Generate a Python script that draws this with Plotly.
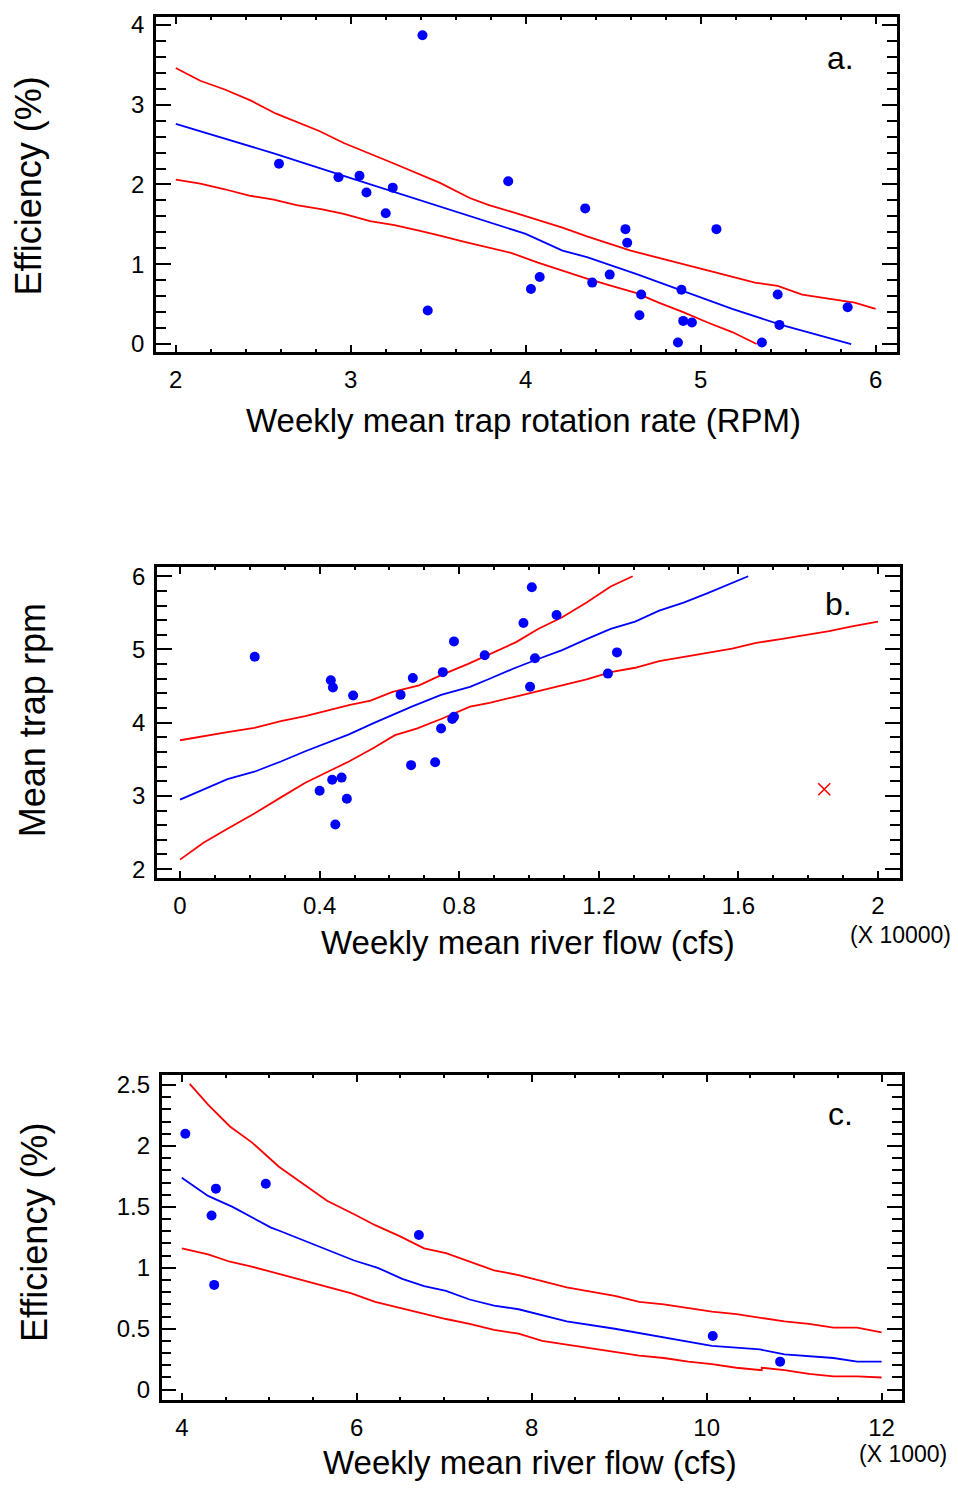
import plotly.graph_objects as go

FONT = "Liberation Sans, Arial, sans-serif"
BLUE = "#0000ff"
RED = "#ff0000"

# ---------------- Panel a: efficiency vs trap rotation rate ----------------
a_pts_x = [2.59, 2.93, 3.05, 3.09, 3.24, 3.20, 3.41, 3.44, 3.90, 4.03, 4.08, 4.34, 4.38, 4.48,
           4.57, 4.58, 4.66, 4.65, 4.89, 4.90, 4.95, 4.87, 5.09, 5.35, 5.44, 5.45, 5.84]
a_pts_y = [2.26, 2.09, 2.11, 1.90, 1.96, 1.64, 3.87, 0.42, 2.04, 0.69, 0.84, 1.70, 0.77, 0.87,
           1.44, 1.27, 0.62, 0.36, 0.68, 0.29, 0.27, 0.02, 1.44, 0.02, 0.62, 0.24, 0.46]
a_fit_x = [2.00, 2.56, 3.00, 3.51, 4.00, 4.21, 4.35, 4.63, 4.90, 5.18, 5.46, 5.86]
a_fit_y = [2.76, 2.39, 2.08, 1.72, 1.38, 1.17, 1.09, 0.88, 0.66, 0.44, 0.24, 0.00]
a_up_x = [2.00, 2.14, 2.28, 2.43, 2.57, 2.82, 2.96, 3.13, 3.26, 3.51, 3.68, 3.79, 3.93, 4.21,
          4.35, 4.60, 4.71, 4.90, 5.10, 5.31, 5.44, 5.58, 5.74, 5.88, 6.00]
a_up_y = [3.46, 3.30, 3.19, 3.05, 2.89, 2.67, 2.52, 2.37, 2.25, 2.02, 1.83, 1.74, 1.65, 1.46,
          1.35, 1.17, 1.11, 1.00, 0.89, 0.77, 0.73, 0.62, 0.57, 0.52, 0.44]
a_lo_x = [2.00, 2.14, 2.28, 2.42, 2.56, 2.69, 2.83, 2.96, 3.11, 3.25, 3.39, 3.51, 3.65, 3.79,
          3.92, 4.07, 4.21, 4.35, 4.49, 4.63, 4.76, 4.90, 5.04, 5.18, 5.32]
a_lo_y = [2.06, 2.01, 1.94, 1.86, 1.81, 1.74, 1.69, 1.63, 1.54, 1.49, 1.42, 1.36, 1.28, 1.21,
          1.14, 1.02, 0.92, 0.82, 0.73, 0.64, 0.52, 0.40, 0.27, 0.15, 0.00]

# ---------------- Panel b: mean trap rpm vs river flow (x 10000 cfs) ----------------
b_pts_x = [0.214, 0.432, 0.438, 0.496, 0.632, 0.667, 0.753, 0.785, 0.873, 0.984, 1.008, 1.079,
           1.017, 1.003, 1.226, 1.252, 0.785, 0.780, 0.748, 0.662, 0.731, 0.436, 0.463, 0.400,
           0.478, 0.445]
b_pts_y = [4.90, 4.58, 4.48, 4.37, 4.38, 4.61, 4.69, 5.11, 4.92, 5.36, 5.85, 5.47,
           4.88, 4.49, 4.67, 4.96, 4.08, 4.05, 3.92, 3.42, 3.46, 3.22, 3.25, 3.07,
           2.96, 2.61]
b_out_x = [1.846]
b_out_y = [3.09]
b_fit_x = [0.0, 0.067, 0.136, 0.213, 0.289, 0.359, 0.428, 0.484, 0.553, 0.609, 0.664, 0.748,
           0.831, 0.887, 0.956, 1.026, 1.095, 1.165, 1.234, 1.304, 1.373, 1.443, 1.512, 1.628]
b_fit_y = [2.95, 3.09, 3.23, 3.33, 3.47, 3.61, 3.74, 3.84, 3.99, 4.11, 4.22, 4.38,
           4.49, 4.60, 4.74, 4.87, 4.99, 5.14, 5.28, 5.38, 5.53, 5.64, 5.77, 6.00]
b_up_x = [0.0, 0.067, 0.136, 0.213, 0.289, 0.359, 0.428, 0.484, 0.546, 0.609, 0.685, 0.748,
          0.824, 0.887, 0.963, 1.026, 1.095, 1.165, 1.234, 1.297]
b_up_y = [3.76, 3.81, 3.87, 3.93, 4.02, 4.09, 4.17, 4.24, 4.30, 4.42, 4.51, 4.65,
          4.80, 4.94, 5.10, 5.28, 5.44, 5.64, 5.86, 6.00]
b_lo_x = [0.0, 0.067, 0.136, 0.213, 0.289, 0.359, 0.428, 0.484, 0.553, 0.616, 0.678, 0.748,
          0.831, 0.887, 0.956, 1.026, 1.095, 1.165, 1.234, 1.304, 1.373, 1.443, 1.582, 1.651,
          1.721, 1.860, 1.929, 2.0]
b_lo_y = [2.13, 2.36, 2.55, 2.76, 2.98, 3.18, 3.34, 3.47, 3.65, 3.83, 3.92, 4.05,
          4.22, 4.27, 4.35, 4.43, 4.51, 4.59, 4.69, 4.75, 4.84, 4.90, 5.01, 5.09,
          5.14, 5.25, 5.32, 5.38]

# ---------------- Panel c: efficiency vs river flow (x 1000 cfs) ----------------
c_pts_x = [4.04, 4.39, 4.34, 4.37, 4.96, 6.71, 10.07, 10.84]
c_pts_y = [2.10, 1.65, 1.43, 0.86, 1.69, 1.27, 0.44, 0.23]
c_fit_x = [4.00, 4.30, 4.58, 5.02, 5.13, 5.69, 5.97, 6.24, 6.52, 6.77, 7.02, 7.29, 7.57, 7.85,
           8.12, 8.40, 8.95, 9.51, 10.06, 10.61, 10.89, 11.45, 11.72, 12.0]
c_fit_y = [1.74, 1.59, 1.50, 1.33, 1.30, 1.14, 1.06, 1.00, 0.91, 0.85, 0.81, 0.74, 0.69, 0.66,
           0.61, 0.56, 0.50, 0.43, 0.36, 0.33, 0.29, 0.26, 0.23, 0.23]
c_up_x = [4.09, 4.30, 4.55, 4.80, 5.11, 5.36, 5.66, 5.97, 6.21, 6.49, 6.77, 7.02, 7.29, 7.57,
          7.85, 8.40, 8.95, 9.23, 9.51, 10.06, 10.34, 10.89, 11.17, 11.45, 11.72, 12.0]
c_up_y = [2.51, 2.34, 2.16, 2.03, 1.83, 1.70, 1.55, 1.44, 1.35, 1.26, 1.16, 1.12, 1.05, 0.98,
          0.94, 0.84, 0.77, 0.72, 0.70, 0.64, 0.62, 0.56, 0.54, 0.51, 0.51, 0.47]
c_lo_x = [4.00, 4.30, 4.55, 4.80, 5.11, 5.36, 5.66, 5.94, 6.21, 6.49, 6.77, 7.02, 7.29, 7.57,
          7.85, 8.12, 8.40, 8.68, 8.95, 9.23, 9.51, 9.79, 10.06, 10.34, 10.63, 10.63, 10.89,
          11.17, 11.45, 11.72, 12.0]
c_lo_y = [1.16, 1.11, 1.05, 1.01, 0.95, 0.90, 0.84, 0.79, 0.72, 0.67, 0.62, 0.58, 0.54, 0.49,
          0.46, 0.40, 0.37, 0.34, 0.31, 0.28, 0.26, 0.23, 0.21, 0.18, 0.16, 0.18, 0.16,
          0.13, 0.11, 0.11, 0.10]

# tick labels
a_xticks = [2, 3, 4, 5, 6]
a_yticks = [0, 1, 2, 3, 4]
b_xticks = [0, 0.4, 0.8, 1.2, 1.6, 2.0]
b_xtext = ["0", "0.4", "0.8", "1.2", "1.6", "2"]
b_yticks = [2, 3, 4, 5, 6]
c_xticks = [4, 6, 8, 10, 12]
c_yticks = [0, 0.5, 1, 1.5, 2, 2.5]
c_ytext = ["0", "0.5", "1", "1.5", "2", "2.5"]

fig = go.Figure()

def add_panel(fig, n, px, py, fx, fy, ux, uy, lx, ly):
    xa = "x" if n == 1 else f"x{n}"
    ya = "y" if n == 1 else f"y{n}"
    for xs, ys, col in [(ux, uy, RED), (lx, ly, RED), (fx, fy, BLUE)]:
        fig.add_trace(go.Scatter(x=xs, y=ys, mode="lines", xaxis=xa, yaxis=ya,
                                 line=dict(color=col, width=1.8), showlegend=False,
                                 hoverinfo="skip"))
    fig.add_trace(go.Scatter(x=px, y=py, mode="markers", xaxis=xa, yaxis=ya,
                             marker=dict(color=BLUE, size=10, line=dict(width=0)),
                             showlegend=False))

add_panel(fig, 1, a_pts_x, a_pts_y, a_fit_x, a_fit_y, a_up_x, a_up_y, a_lo_x, a_lo_y)
add_panel(fig, 2, b_pts_x, b_pts_y, b_fit_x, b_fit_y, b_up_x, b_up_y, b_lo_x, b_lo_y)
fig.add_trace(go.Scatter(x=b_out_x, y=b_out_y, mode="markers", xaxis="x2", yaxis="y2",
                         marker=dict(symbol="x-thin", size=12, color=RED,
                                     line=dict(color=RED, width=1.6)),
                         showlegend=False))
add_panel(fig, 3, c_pts_x, c_pts_y, c_fit_x, c_fit_y, c_up_x, c_up_y, c_lo_x, c_lo_y)

W, H = 958, 1488
TICKSIZE = 24

def xax(domain, rng, tickvals, ticktext, minor_dtick):
    return dict(domain=domain, range=rng, tickmode="array", tickvals=tickvals,
                ticktext=ticktext, showline=True, linewidth=2.5, linecolor="black",
                mirror="ticks", ticks="inside", ticklen=7, tickwidth=2, tickcolor="black",
                minor=dict(ticks="inside", ticklen=3, tickwidth=2, tickcolor="black",
                           dtick=minor_dtick, tick0=0, showgrid=False),
                showgrid=False, zeroline=False, ticklabelstandoff=5,
                tickfont=dict(family=FONT, size=TICKSIZE, color="black"))

def yax(domain, rng, tickvals, ticktext, minor_dtick, anchor):
    return dict(domain=domain, range=rng, tickmode="array", tickvals=tickvals,
                ticktext=ticktext, anchor=anchor, showline=True, linewidth=2.5,
                linecolor="black", mirror="ticks", ticks="inside", ticklen=15, tickwidth=2,
                tickcolor="black",
                minor=dict(ticks="inside", ticklen=10, tickwidth=2, tickcolor="black",
                           dtick=minor_dtick, tick0=0, showgrid=False),
                showgrid=False, zeroline=False, ticklabelstandoff=4,
                tickfont=dict(family=FONT, size=TICKSIZE, color="black"))

def dom_x(l, r):
    return [l / W, r / W]

def dom_y(t, b):
    return [1 - b / H, 1 - t / H]

fig.update_layout(
    width=W, height=H, margin=dict(l=0, r=0, t=0, b=0),
    paper_bgcolor="white", plot_bgcolor="white",
    xaxis=xax(dom_x(156, 897), [1.887, 6.122], a_xticks, [str(v) for v in a_xticks], 0.2),
    yaxis=yax(dom_y(11, 348.5), [-0.096, 4.10], a_yticks, [str(v) for v in a_yticks], 0.2, "x"),
    xaxis2=xax(dom_x(157, 900), [-0.066, 2.063], b_xticks, b_xtext, 0.1),
    yaxis2=yax(dom_y(566, 879), [1.88, 6.12], b_yticks, [str(v) for v in b_yticks], 0.2, "x2"),
    xaxis3=xax(dom_x(161.7, 901.7), [3.77, 12.23], c_xticks, [str(v) for v in c_xticks], 0.5),
    yaxis3=yax(dom_y(1078, 1405), [-0.082, 2.58], c_yticks, c_ytext, 0.1, "x3"),
)
fig.layout.xaxis.anchor = "y"
fig.layout.xaxis2.anchor = "y2"
fig.layout.xaxis3.anchor = "y3"

def ann(text, x, y, size, angle=0, xanchor="center", yanchor="middle"):
    fig.add_annotation(text=text, x=x / W, y=1 - y / H, xref="paper", yref="paper",
                       showarrow=False, textangle=angle, xanchor=xanchor, yanchor=yanchor,
                       font=dict(family=FONT, size=size, color="black"))

# axis titles
ann("Weekly mean trap rotation rate (RPM)", 523, 418, 33)
ann("Efficiency (%)", 29, 182, 36, angle=-90)
ann("Weekly mean river flow (cfs)", 528, 944, 33)
ann("Mean trap rpm", 32, 720, 36, angle=-90)
ann("(X 10000)", 900, 937, 23)
ann("Weekly mean river flow (cfs)", 530, 1468, 33)
ann("Efficiency (%)", 34, 1237, 36, angle=-90)
ann("(X 1000)", 903, 1460, 23)
# panel letters
ann("a.", 840, 52, 32)
ann("b.", 838, 603, 32)
ann("c.", 840, 1117, 32)

fig.write_html("out.html")
